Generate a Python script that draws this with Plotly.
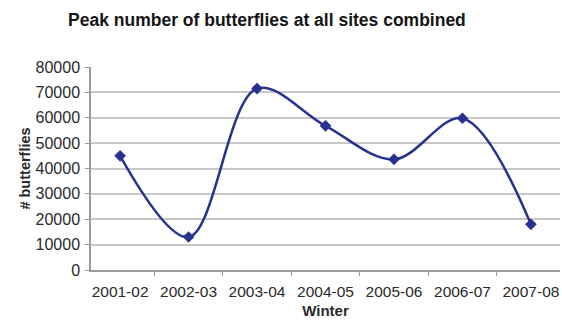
import plotly.graph_objects as go

winters = ["2001-02", "2002-03", "2003-04", "2004-05", "2005-06", "2006-07", "2007-08"]
peak_counts = [45000, 13000, 71500, 56800, 43600, 59800, 18000]
y_ticks = [0, 10000, 20000, 30000, 40000, 50000, 60000, 70000, 80000]

navy = "#28338f"
font_family = "Liberation Sans, Arial, sans-serif"
text_color = "#2a2a2a"

fig = go.Figure(
    go.Scatter(
        x=winters,
        y=peak_counts,
        mode="lines+markers",
        line=dict(color=navy, width=2.5, shape="spline", smoothing=1),
        marker=dict(symbol="diamond", size=9, color=navy),
        showlegend=False,
    )
)

fig.update_layout(
    width=562,
    height=324,
    margin=dict(l=91, r=2, t=67, b=54),
    paper_bgcolor="white",
    plot_bgcolor="white",
    font=dict(family=font_family, size=15, color=text_color),
    title=dict(
        text="<b>Peak number of butterflies at all sites combined</b>",
        x=0.475,
        xanchor="center",
        y=0.94,
        yanchor="middle",
        font=dict(size=17.5, color="#151515"),
    ),
    xaxis=dict(
        type="category",
        title=dict(text="<b>Winter</b>", font=dict(size=15), standoff=6),
        tickson="boundaries",
        ticks="outside",
        ticklen=4,
        tickcolor="#999",
        ticklabelstandoff=7,
        showline=True,
        linecolor="#999",
        linewidth=1.5,
        showgrid=False,
        tickfont=dict(size=15.5, color=text_color),
    ),
    yaxis=dict(
        title=dict(text="<b># butterflies</b>", font=dict(size=14.5), standoff=1),
        range=[0, 80000],
        tickvals=y_ticks,
        ticktext=[str(v) for v in y_ticks],
        ticks="outside",
        ticklen=4,
        tickcolor="#999",
        ticklabelstandoff=2,
        showline=True,
        linecolor="#999",
        linewidth=1.5,
        showgrid=True,
        gridcolor="#c8c8c8",
        gridwidth=2,
        zeroline=False,
        tickfont=dict(size=16, color=text_color),
    ),
)

fig.write_html("out.html")
